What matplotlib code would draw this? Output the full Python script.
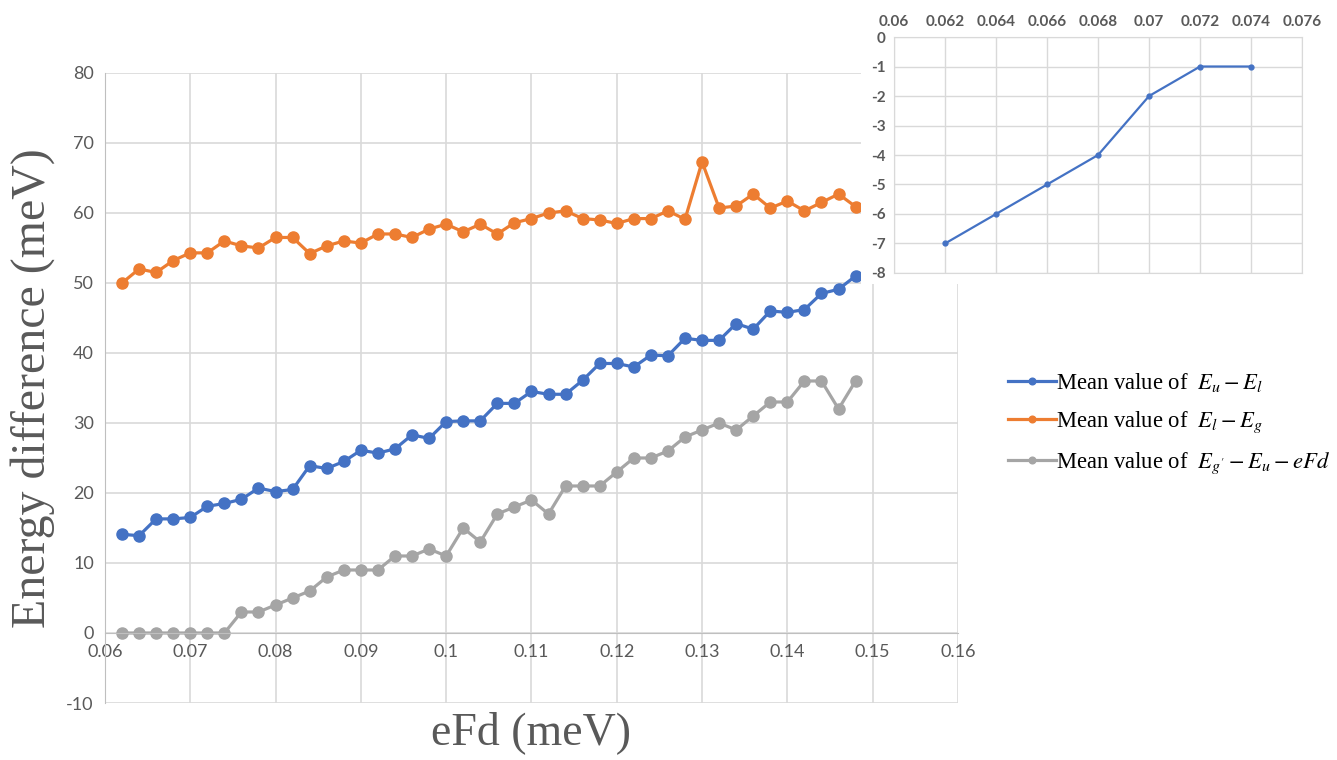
import numpy as np
import matplotlib
matplotlib.use("Agg")
import matplotlib.pyplot as plt
from matplotlib.patches import Rectangle

plt.rcParams['mathtext.fontset'] = 'stix'
plt.rcParams['axes.unicode_minus'] = False

# eFd values (meV) and the three mean energy differences (meV)
efd = [0.062, 0.064, 0.066, 0.068, 0.070, 0.072, 0.074, 0.076, 0.078, 0.080,
       0.082, 0.084, 0.086, 0.088, 0.090, 0.092, 0.094, 0.096, 0.098, 0.100,
       0.102, 0.104, 0.106, 0.108, 0.110, 0.112, 0.114, 0.116, 0.118, 0.120,
       0.122, 0.124, 0.126, 0.128, 0.130, 0.132, 0.134, 0.136, 0.138, 0.140,
       0.142, 0.144, 0.146, 0.148]
eu_el = [14.1, 13.9, 16.3, 16.3, 16.5, 18.1, 18.5, 19.1, 20.7, 20.2,
         20.5, 23.9, 23.5, 24.5, 26.1, 25.7, 26.3, 28.3, 27.8, 30.2,
         30.3, 30.3, 32.8, 32.8, 34.5, 34.1, 34.1, 36.1, 38.5, 38.5,
         38.0, 39.7, 39.6, 42.1, 41.8, 41.8, 44.2, 43.4, 46.0, 45.8,
         46.2, 48.5, 49.1, 51.0]
el_eg = [50.0, 52.0, 51.5, 53.2, 54.3, 54.3, 56.0, 55.3, 55.0, 56.5,
         56.5, 54.2, 55.3, 56.0, 55.7, 57.0, 57.0, 56.5, 57.7, 58.4,
         57.3, 58.4, 57.0, 58.6, 59.2, 60.0, 60.3, 59.2, 59.0, 58.5,
         59.2, 59.2, 60.3, 59.1, 67.3, 60.7, 61.0, 62.7, 60.7, 61.7,
         60.3, 61.5, 62.7, 60.9]
eg_eu_efd = [0, 0, 0, 0, 0, 0, 0, 3, 3, 4,
             5, 6, 8, 9, 9, 9, 11, 11, 12, 11,
             15, 13, 17, 18, 19, 17, 21, 21, 21, 23,
             25, 25, 26, 28, 29, 30, 29, 31, 33, 33,
             36, 36, 32, 36]

# small inset
inset_x = [0.062, 0.064, 0.066, 0.068, 0.070, 0.072, 0.074]
inset_y = [-7, -6, -5, -4, -2, -1, -1]

labels = ['Mean value of  $E_u - E_l$',
          'Mean value of  $E_l - E_g$',
          "Mean value of  $E_{g'} - E_u - eFd$"]
colors = ['#4472C4', '#ED7D31', '#A5A5A5']

txt = '#595959'
grid = '#D9D9D9'

fig = plt.figure(figsize=(13.37, 7.6), dpi=100)
ax = fig.add_axes([0.0785, 0.075, 0.638, 0.829])

lines = []
for ys, c, lab in zip([eu_el, el_eg, eg_eu_efd], colors, labels):
    ln, = ax.plot(efd, ys, color=c, lw=2.3, marker='o', ms=8, label=lab)
    lines.append(ln)

ax.set_xlim(0.06, 0.16)
ax.set_ylim(-10, 80)
ax.set_xticks(np.linspace(0.06, 0.16, 11))
ax.set_yticks(range(-10, 81, 10))
ax.xaxis.set_major_formatter(plt.FuncFormatter(lambda v, p: '%g' % round(v, 3)))
ax.grid(True, color=grid, lw=1.2)
ax.set_axisbelow(True)
for s in ['top', 'right']:
    ax.spines[s].set_visible(False)
ax.spines['bottom'].set_position(('data', 0))
ax.spines['bottom'].set_color('#BFBFBF')
ax.spines['left'].set_color('#BFBFBF')
ax.tick_params(length=0, labelsize=13, labelcolor=txt, pad=8)
for t in ax.get_xticklabels() + ax.get_yticklabels():
    t.set_family('Lato')

ax.set_xlabel('eFd (meV)', family='Liberation Serif', fontsize=33, color=txt)
ax.xaxis.set_label_coords(0.5, -0.013)
ax.set_ylabel('Energy difference (meV)', family='Liberation Serif', fontsize=34.5, color=txt)
ax.yaxis.set_label_coords(-0.058, 0.5)

fig.legend(handles=lines, loc='center left', bbox_to_anchor=(0.739, 0.443),
           frameon=False, prop={'family': 'Liberation Serif', 'size': 16.3},
           handlelength=2.1, handletextpad=0.02, labelspacing=0.68,
           markerscale=0.6)

# white panel behind the inset
fig.add_artist(Rectangle((0.644, 0.626), 0.356, 0.374, transform=fig.transFigure,
                         facecolor='white', edgecolor='none', zorder=1))

axi = fig.add_axes([0.6687, 0.6408, 0.3052, 0.3105], zorder=2)
axi.plot(inset_x, inset_y, color='#4472C4', lw=1.6, marker='o', ms=3.5)
axi.set_xlim(0.06, 0.076)
axi.set_ylim(-8, 0)
axi.set_xticks(np.linspace(0.06, 0.076, 9))
axi.set_yticks(range(-8, 1))
axi.xaxis.set_major_formatter(plt.FuncFormatter(lambda v, p: '%g' % round(v, 3)))
axi.xaxis.tick_top()
axi.grid(True, color=grid, lw=1.0)
axi.set_axisbelow(True)
for s in axi.spines.values():
    s.set_color(grid)
axi.tick_params(length=0, labelsize=11, labelcolor=txt, pad=6)
for t in axi.get_xticklabels() + axi.get_yticklabels():
    t.set_family('Lato')
    t.set_weight('bold')

fig.savefig('out.png', dpi=100)
